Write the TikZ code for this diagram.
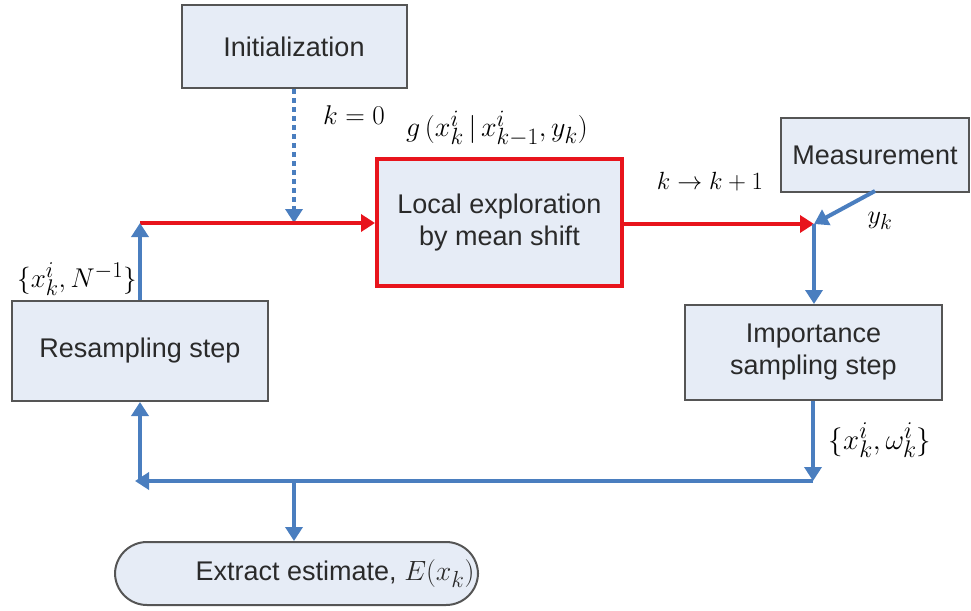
\documentclass[tikz,border=0pt]{standalone}
\usepackage{fontspec}
\setmainfont{Liberation Sans}
\usetikzlibrary{arrows.meta}
\definecolor{boxfill}{HTML}{E6ECF6}
\definecolor{boxline}{HTML}{555555}
\definecolor{boxtext}{HTML}{2A2A2A}
\definecolor{flowblue}{HTML}{4A7EBF}
\definecolor{flowred}{HTML}{E8141C}
\tikzset{
  block/.style={draw=boxline, line width=2pt, fill=boxfill, align=center,
    text=boxtext, font=\fontsize{27}{32}\selectfont, inner sep=0pt},
  bluearrow/.style={draw=flowblue, line width=4pt,
    -{Triangle[width=17pt,length=14pt]}},
  blueline/.style={draw=flowblue, line width=4pt},
  redarrow/.style={draw=flowred, line width=4pt,
    -{Triangle[width=17pt,length=14pt]}},
  % math fonts come in fixed design sizes, so labels are set at 24.88pt and scaled
  mathlbl/.style={font=\fontsize{24.88}{30}\selectfont, inner sep=0pt}
}
\begin{document}
\begin{tikzpicture}[x=1pt,y=-1pt]
\useasboundingbox (0,0) rectangle (971,610);

% process boxes
\node[block, minimum width=225pt, minimum height=83pt] (init) at (294,46.5) {Initialization};
\node[block, draw=flowred, line width=4pt, minimum width=245pt, minimum height=127pt]
  (local) at (499.5,222.5) {Local exploration\\by mean shift};
\node[block, minimum width=188pt, minimum height=74pt] (meas) at (875,155) {Measurement};
\node[block, minimum width=257pt, minimum height=95pt] (imp) at (813.5,352.5) {Importance\\sampling step};
\node[block, minimum width=256pt, minimum height=100pt] (res) at (140,351) {Resampling step};
\node[block, rounded corners=32pt, minimum width=363pt, minimum height=63pt]
  (extract) at (296.5,573.5)
  {\makebox[356pt][r]{Extract estimate, \scalebox{1.12}{\fontsize{24.88}{30}\selectfont$E(x_k)$}}};

% junction points of the loop
\coordinate (c1) at (140,223);
\coordinate (j) at (814,224);
\coordinate (mout) at (875,191);
\coordinate (bl) at (140,481);
\coordinate (br) at (813,481);
\coordinate (bm) at (294,481);

% initial condition, dotted
\draw[bluearrow, dash pattern=on 5pt off 4pt] (init.south) -- (init.south |- c1);

% red mean-shift loop
\draw[redarrow] (c1) -- (local.west |- c1);
\draw[redarrow] (local.east |- j) -- (j);

% measurement and weighting
\draw[bluearrow] (mout) -- (j);
\draw[blueline] (j) -- ++(0,6);
\draw[bluearrow] (j) -- (imp.north -| j);
\draw[bluearrow] (imp.south -| br) -- (br);
\draw[bluearrow] (br) -- ([xshift=-5pt]bl);
\draw[bluearrow] (bl) -- (res.south);
\draw[bluearrow] (res.north) -- (c1);
\draw[bluearrow] (bm) -- (extract.north -| bm);

% labels
\node[mathlbl, scale=1.09] (l0) at (354,115) {$k=0$};
\node[mathlbl, scale=1.13] (lg) at (497,129) {$g\,(x_k^i \,|\, x_{k-1}^i, y_k)$};
\node[mathlbl, scale=1.0] (lk) at (710,182) {$k\rightarrow k+1$};
\node[mathlbl, scale=1.05] (ly) at (880,221) {$y_k$};
\node[mathlbl, scale=1.09] (lr) at (77,279) {$\{x_k^i, N^{-1}\}$};
\node[mathlbl, scale=1.16] (lw) at (880,440) {$\{x_k^i, \omega_k^i\}$};
\end{tikzpicture}
\end{document}
